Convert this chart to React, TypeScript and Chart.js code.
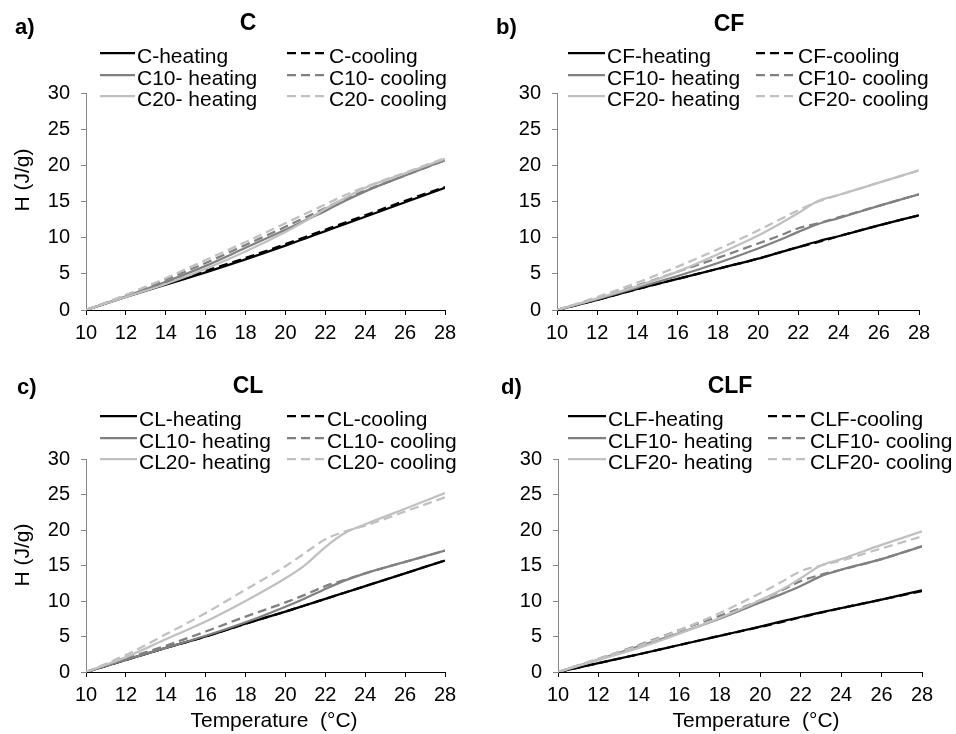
import React, { useEffect, useRef } from "react";
import { Chart, registerables } from "chart.js";

Chart.register(...registerables);

const FONT = '"Liberation Sans", Arial, Helvetica, sans-serif';

// Temperatures (°C) at which curves are sampled
const TEMPS = [10, 12, 14, 16, 18, 20, 21, 22, 23, 24, 26, 28];

// Axis ranges and tick steps
const X_MIN = 10;
const X_MAX = 28;
const X_STEP = 2;
const Y_MIN = 0;
const Y_MAX = 30;
const Y_STEP = 5;

const Y_TITLE = "H (J/g)";
const X_TITLE = "Temperature  (°C)";

// Panel a) C
const C_HEAT = [0, 1.8, 3.5, 5.2, 7.0, 8.9, 9.9, 10.9, 11.9, 12.9, 14.9, 16.9];
const C_COOL = [0, 1.9, 3.7, 5.4, 7.2, 9.1, 10.1, 11.1, 12.1, 13.1, 15.1, 17.0];
const C10_HEAT = [0, 1.9, 3.9, 6.1, 8.6, 11.1, 12.4, 13.7, 15.1, 16.4, 18.6, 20.7];
const C10_COOL = [0, 2.0, 4.2, 6.5, 9.0, 11.5, 12.8, 14.1, 15.4, 16.5, 18.6, 20.7];
const C20_HEAT = [0, 1.8, 3.6, 5.7, 8.1, 10.8, 12.3, 14.0, 15.5, 16.9, 18.9, 20.9];
const C20_COOL = [0, 2.1, 4.4, 6.9, 9.4, 12.0, 13.3, 14.6, 15.9, 17.0, 19.0, 21.0];

// Panel b) CF
const CF_HEAT = [0, 1.4, 2.9, 4.3, 5.7, 7.1, 7.9, 8.7, 9.5, 10.2, 11.7, 13.1];
const CF_COOL = [0, 1.4, 2.9, 4.3, 5.7, 7.1, 7.9, 8.7, 9.4, 10.2, 11.7, 13.1];
const CF10_HEAT = [0, 1.5, 3.1, 4.7, 6.5, 8.5, 9.6, 10.8, 11.9, 12.7, 14.4, 16.0];
const CF10_COOL = [0, 1.6, 3.4, 5.3, 7.2, 9.2, 10.2, 11.3, 12.0, 12.8, 14.4, 16.0];
const CF20_HEAT = [0, 1.6, 3.3, 5.3, 7.7, 10.3, 11.8, 13.4, 15.1, 15.9, 17.6, 19.3];
const CF20_COOL = [0, 1.8, 3.8, 6.0, 8.4, 11.0, 12.4, 13.8, 15.0, 15.9, 17.6, 19.3];

// Panel c) CL
const CL_HEAT = [0, 1.7, 3.4, 5.0, 6.8, 8.5, 9.4, 10.3, 11.2, 12.1, 13.9, 15.7];
const CL_COOL = [0, 1.7, 3.4, 5.0, 6.8, 8.5, 9.4, 10.3, 11.2, 12.1, 13.9, 15.7];
const CL10_HEAT = [0, 1.7, 3.4, 5.1, 7.0, 9.2, 10.4, 11.7, 12.9, 13.9, 15.5, 17.1];
const CL10_COOL = [0, 1.9, 3.7, 5.7, 7.8, 9.8, 10.9, 12.1, 13.0, 13.9, 15.5, 17.1];
const CL20_HEAT = [0, 2.1, 4.6, 7.1, 10.0, 13.2, 15.1, 17.6, 19.6, 20.8, 23.0, 25.2];
const CL20_COOL = [0, 2.4, 5.3, 8.3, 11.6, 14.9, 16.8, 18.7, 19.8, 20.6, 22.6, 24.6];

// Panel d) CLF
const CLF_HEAT = [0, 1.25, 2.5, 3.8, 5.1, 6.4, 7.1, 7.75, 8.4, 9.0, 10.2, 11.5];
const CLF_COOL = [0, 1.25, 2.5, 3.8, 5.1, 6.35, 7.0, 7.7, 8.35, 9.0, 10.2, 11.4];
const CLF10_HEAT = [0, 1.75, 3.6, 5.5, 7.5, 9.8, 10.9, 12.1, 13.5, 14.4, 15.9, 17.7];
const CLF10_COOL = [0, 1.85, 3.8, 5.9, 7.9, 10.1, 11.4, 12.8, 13.7, 14.4, 15.9, 17.7];
const CLF20_HEAT = [0, 1.7, 3.4, 5.4, 7.6, 10.1, 11.5, 13.2, 15.0, 15.9, 17.9, 19.8];
const CLF20_COOL = [0, 1.9, 3.7, 5.9, 8.3, 11.1, 12.6, 14.2, 15.0, 15.7, 17.4, 19.1];

// Series styling (order: heating, cooling, 10 heating, 10 cooling, 20 heating, 20 cooling)
const COLORS = ["#000000", "#000000", "#808080", "#808080", "#c0c0c0", "#c0c0c0"];
const DASHES = [[], [9, 5], [], [9, 5], [], [9, 5]];

type PanelData = {
  letter: string;
  title: string;
  labels: string[];
  series: number[][];
};

const PANELS: PanelData[] = [
  {
    letter: "a)",
    title: "C",
    labels: ["C-heating", "C-cooling", "C10- heating", "C10- cooling", "C20- heating", "C20- cooling"],
    series: [C_HEAT, C_COOL, C10_HEAT, C10_COOL, C20_HEAT, C20_COOL],
  },
  {
    letter: "b)",
    title: "CF",
    labels: ["CF-heating", "CF-cooling", "CF10- heating", "CF10- cooling", "CF20- heating", "CF20- cooling"],
    series: [CF_HEAT, CF_COOL, CF10_HEAT, CF10_COOL, CF20_HEAT, CF20_COOL],
  },
  {
    letter: "c)",
    title: "CL",
    labels: ["CL-heating", "CL-cooling", "CL10- heating", "CL10- cooling", "CL20- heating", "CL20- cooling"],
    series: [CL_HEAT, CL_COOL, CL10_HEAT, CL10_COOL, CL20_HEAT, CL20_COOL],
  },
  {
    letter: "d)",
    title: "CLF",
    labels: ["CLF-heating", "CLF-cooling", "CLF10- heating", "CLF10- cooling", "CLF20- heating", "CLF20- cooling"],
    series: [CLF_HEAT, CLF_COOL, CLF10_HEAT, CLF10_COOL, CLF20_HEAT, CLF20_COOL],
  },
];

// Layout (panel-local pixel positions)
const PANEL_W = 478;
const PANEL_H = 367;

type Layout = {
  px: number;
  py: number;
  left: number;
  right: number;
  top: number;
  bottom: number;
  letterPos: [number, number];
  titlePos: [number, number];
  rows: number[];
  cols: [number, number][];
  yTitlePos: [number, number] | null;
  xTitlePos: [number, number] | null;
};

const LAYOUTS: Layout[] = [
  {
    px: 0, py: 0, left: 86, right: 445, top: 93, bottom: 310,
    letterPos: [15, 34], titlePos: [248, 30],
    rows: [53, 75, 96], cols: [[100, 135], [287, 327]],
    yTitlePos: [23, 180], xTitlePos: null,
  },
  {
    px: 478, py: 0, left: 79, right: 441, top: 93, bottom: 310,
    letterPos: [18, 34], titlePos: [251, 31],
    rows: [53, 75, 96], cols: [[90, 127], [278, 318]],
    yTitlePos: null, xTitlePos: null,
  },
  {
    px: 0, py: 367, left: 86, right: 445, top: 92, bottom: 305,
    letterPos: [17, 27], titlePos: [248, 26],
    rows: [49, 71, 92], cols: [[100, 137], [287, 325]],
    yTitlePos: [23, 188], xTitlePos: [274, 360],
  },
  {
    px: 478, py: 367, left: 80, right: 444, top: 92, bottom: 305,
    letterPos: [23, 27], titlePos: [252, 26],
    rows: [49, 71, 92], cols: [[90, 128], [290, 330]],
    yTitlePos: null, xTitlePos: [278, 360],
  },
];

const overlayPlugin = {
  id: "overlay",
  afterDraw(chart: any, _args: any, opts: any) {
    const ctx = chart.ctx as CanvasRenderingContext2D;
    const L: Layout = opts.layout;
    const P: PanelData = opts.panel;
    ctx.save();
    ctx.fillStyle = "#000";
    ctx.textBaseline = "alphabetic";

    ctx.textAlign = "left";
    ctx.font = `bold 22px ${FONT}`;
    ctx.fillText(P.letter, L.letterPos[0], L.letterPos[1]);

    ctx.textAlign = "center";
    ctx.font = `bold 23px ${FONT}`;
    ctx.fillText(P.title, L.titlePos[0], L.titlePos[1]);

    // legend (2 columns x 3 rows, row-major)
    ctx.font = `21px ${FONT}`;
    chart.data.datasets.forEach((ds: any, i: number) => {
      const col = i % 2;
      const row = Math.floor(i / 2);
      const y = L.rows[row];
      const [x0, x1] = L.cols[col];
      ctx.save();
      ctx.strokeStyle = ds.borderColor;
      ctx.lineWidth = ds.borderWidth;
      ctx.setLineDash(ds.borderDash || []);
      ctx.beginPath();
      ctx.moveTo(x0, y);
      ctx.lineTo(x1, y);
      ctx.stroke();
      ctx.restore();
      ctx.textAlign = "left";
      ctx.fillStyle = "#000";
      ctx.fillText(ds.label, x1 + 2, y + 10);
    });

    ctx.font = `21px ${FONT}`;
    if (L.yTitlePos) {
      ctx.save();
      ctx.translate(L.yTitlePos[0], L.yTitlePos[1]);
      ctx.rotate(-Math.PI / 2);
      ctx.textAlign = "center";
      ctx.textBaseline = "middle";
      ctx.fillText(Y_TITLE, 0, 0);
      ctx.restore();
    }
    if (L.xTitlePos) {
      ctx.textAlign = "center";
      ctx.textBaseline = "alphabetic";
      ctx.fillText(X_TITLE, L.xTitlePos[0], L.xTitlePos[1]);
    }
    ctx.restore();
  },
};

function Panel({ panel, layout }: { panel: PanelData; layout: Layout }) {
  const ref = useRef<HTMLCanvasElement | null>(null);

  useEffect(() => {
    if (!ref.current) return;
    const datasets = panel.series.map((arr, i) => ({
      label: panel.labels[i],
      data: TEMPS.map((x, j) => ({ x, y: arr[j] })),
      borderColor: COLORS[i],
      backgroundColor: COLORS[i],
      borderWidth: 2.25,
      borderDash: DASHES[i],
      pointRadius: 0,
      fill: false,
      cubicInterpolationMode: "monotone" as const,
      order: panel.series.length - i,
    }));

    const chart = new Chart(ref.current, {
      type: "line",
      data: { datasets },
      plugins: [overlayPlugin],
      options: {
        responsive: false,
        animation: false,
        devicePixelRatio: 1,
        events: [],
        layout: {
          padding: { left: 0, top: layout.top, right: PANEL_W - layout.right, bottom: 0 },
        },
        plugins: {
          legend: { display: false },
          title: { display: false },
          tooltip: { enabled: false },
          overlay: { layout, panel },
        } as any,
        scales: {
          x: {
            type: "linear",
            min: X_MIN,
            max: X_MAX,
            ticks: {
              stepSize: X_STEP,
              color: "#000",
              font: { size: 20, family: FONT },
              padding: 6,
              maxRotation: 0,
              autoSkip: false,
            },
            grid: { drawOnChartArea: false, drawTicks: true, tickLength: 5, color: "#000" },
            border: { display: true, color: "#000", width: 1 },
            afterFit: (s: any) => {
              s.height = PANEL_H - layout.bottom;
            },
          },
          y: {
            type: "linear",
            min: Y_MIN,
            max: Y_MAX,
            ticks: {
              stepSize: Y_STEP,
              color: "#000",
              font: { size: 20, family: FONT },
              padding: 11,
            },
            grid: { drawOnChartArea: false, drawTicks: true, tickLength: 5, color: "#868686" },
            border: { display: true, color: "#868686", width: 1 },
            afterFit: (s: any) => {
              s.width = layout.left;
            },
          },
        },
      } as any,
    });
    return () => chart.destroy();
  }, [panel, layout]);

  return (
    <div style={{ position: "absolute", left: layout.px, top: layout.py, width: PANEL_W, height: PANEL_H }}>
      <canvas ref={ref} width={PANEL_W} height={PANEL_H} style={{ display: "block" }} />
    </div>
  );
}

export default function App() {
  return (
    <div
      style={{
        position: "absolute",
        left: 0,
        top: 0,
        width: 956,
        height: 734,
        background: "#ffffff",
        overflow: "hidden",
      }}
    >
      {PANELS.map((p, i) => (
        <Panel key={p.title} panel={p} layout={LAYOUTS[i]} />
      ))}
    </div>
  );
}
